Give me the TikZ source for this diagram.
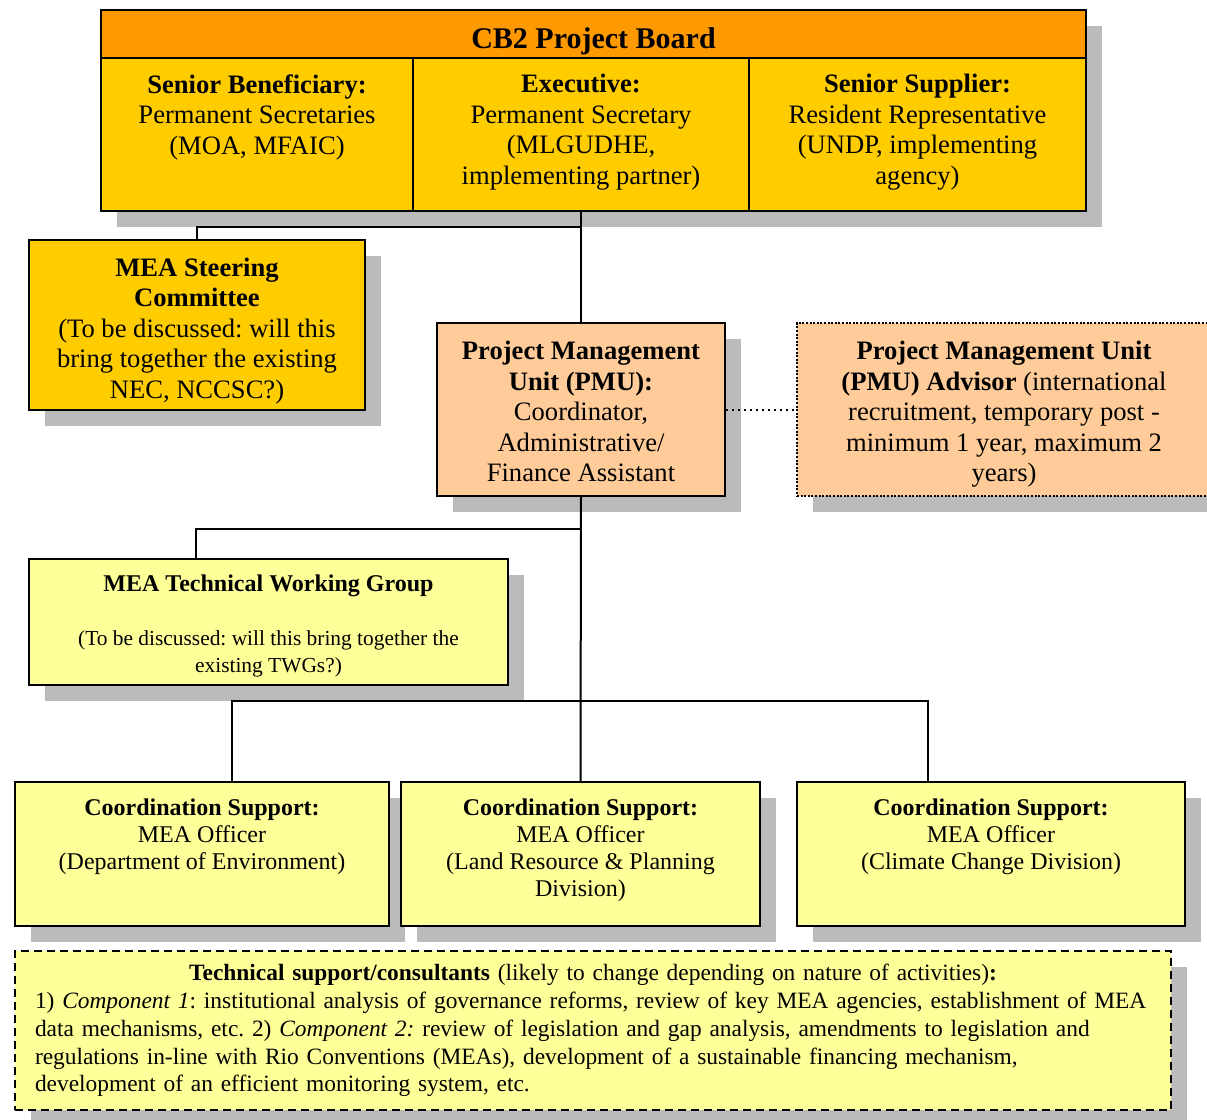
\documentclass[tikz,border=0pt]{standalone}
\usepackage{fontspec}
\setmainfont{Liberation Serif}
\usetikzlibrary{positioning,calc,shadows}
\definecolor{boardorange}{HTML}{FF9900}
\definecolor{boardgold}{HTML}{FFCC00}
\definecolor{pmupeach}{HTML}{FFCC99}
\definecolor{paleyellow}{HTML}{FFFF99}
\definecolor{shadowgray}{HTML}{BBBBBB}
\newcommand{\bigtxt}{\fontsize{13.3}{15.25}\selectfont}
\newcommand{\midtxt}{\fontsize{12}{13.6}\selectfont}
\newcommand{\smalltxt}{\fontsize{10.7}{13}\selectfont}
\frenchspacing

\begin{document}
\begin{tikzpicture}[x=0.5pt, y=-0.5pt, font=\bigtxt,
  box/.style={draw, line width=1pt, anchor=north west, inner sep=0pt},
  boxshadow/.style={drop shadow={shadow xshift=8pt, shadow yshift=-8pt,
                    fill=shadowgray, opacity=1}},
  celltxt/.style={align=center, inner sep=0pt},
  conn/.style={draw, line width=1pt}]
\useasboundingbox (0,0) rectangle (1207,1120);
% project board
\node[box, boxshadow, fill=boardgold, minimum width=492.5pt, minimum height=100.5pt] (board) at (100,9) {};
\node[box, fill=boardorange, minimum width=492.5pt, minimum height=24pt,
  text height=14.5pt, text depth=0.5pt, font=\fontsize{15}{17}\selectfont\bfseries] (title) at (100,9)
  {CB2 Project Board};
\node[box, minimum width=156pt, minimum height=76.5pt] (sb) at (100,57) {};
\node[box, minimum width=168pt, minimum height=76.5pt] (ex) at (412,57) {};
\node[box, minimum width=168.5pt, minimum height=76.5pt] (ss) at (748,57) {};
\node[celltxt, below=8.5pt of sb.north] (sbtext)
  {\textbf{Senior Beneficiary:}\\Permanent Secretaries\\(MOA, MFAIC)};
\node[celltxt, below=8.5pt of ex.north] (extext)
  {\textbf{Executive:}\\Permanent Secretary\\(MLGUDHE,\\implementing partner)};
\node[celltxt, below=8.5pt of ss.north] (sstext)
  {\textbf{Senior Supplier:}\\Resident Representative\\(UNDP, implementing\\agency)};
% committee and management unit
\node[box, boxshadow, fill=boardgold, minimum width=168pt, minimum height=85pt] (steer) at (28,239) {};
\node[celltxt] (steertext) at ($(steer.center)+(0,6)$)
  {\textbf{MEA Steering}\\\textbf{Committee}\\(To be discussed: will this\\bring together the existing\\NEC, NCCSC?)};
\node[box, boxshadow, fill=pmupeach, minimum width=144pt, minimum height=86.5pt] (pmu) at (436,322) {};
\node[celltxt] (pmutext) at ($(pmu.center)+(0,2)$)
  {\textbf{Project Management}\\\textbf{Unit (PMU):}\\Coordinator,\\Administrative/\\Finance Assistant};
\node[box, boxshadow, fill=pmupeach, dash pattern=on 1pt off 0.8pt, minimum width=207pt,
  minimum height=86.5pt] (adv) at (796,322) {};
\node[celltxt] (advtext) at ($(adv.center)+(0,5)$)
  {\textbf{Project Management Unit}\\\textbf{(PMU) Advisor} (international\\recruitment, temporary post -\\minimum 1 year, maximum 2\\years)};
\node[box, boxshadow, fill=paleyellow, minimum width=239.5pt, minimum height=63pt] (twg) at (28,558) {};
\node[celltxt, font=\midtxt] (twgtext) at ($(twg.center)+(0,4)$)
  {\textbf{MEA Technical Working Group}\\[13pt]\smalltxt (To be discussed: will this bring together the\\
   \smalltxt existing TWGs?)};
% coordination support
\node[box, boxshadow, fill=paleyellow, minimum width=187pt, minimum height=72pt] (c1) at (14,781) {};
\node[box, boxshadow, fill=paleyellow, minimum width=179.5pt, minimum height=72pt] (c2) at (400,781) {};
\node[box, boxshadow, fill=paleyellow, minimum width=194pt, minimum height=72pt] (c3) at (796,781) {};
\node[celltxt, font=\midtxt, below=8.5pt of c1.north] (c1text)
  {\textbf{Coordination Support:}\\MEA Officer\\(Department of Environment)};
\node[celltxt, font=\midtxt, below=8.5pt of c2.north] (c2text)
  {\textbf{Coordination Support:}\\MEA Officer\\(Land Resource \& Planning\\Division)};
\node[celltxt, font=\midtxt, below=8.5pt of c3.north] (c3text)
  {\textbf{Coordination Support:}\\MEA Officer\\(Climate Change Division)};
% consultants
\node[box, boxshadow, fill=paleyellow, dash pattern=on 4pt off 2.5pt, minimum width=578pt, minimum height=79.5pt,
  text width=558pt, align=left, font=\fontsize{11.7}{13.9}\selectfont] (ts) at (14,950)
  {\centerline{\textbf{Technical support/consultants} (likely to change depending on nature of activities)\textbf{:}}
   1) \textit{Component 1}: institutional analysis of governance reforms, review of key MEA agencies, establishment of MEA\\
   data mechanisms, etc. 2) \textit{Component 2:} review of legislation and gap analysis, amendments to legislation and\\
   regulations in-line with Rio Conventions (MEAs), development of a sustainable financing mechanism,\\
   development of an efficient monitoring system, etc.};
% connectors
\coordinate (j1) at ($(ex.south)+(0,15)$);
\coordinate (j2) at ($(pmu.south)+(0,32)$);
\coordinate (bus) at ($(pmu.south)+(0,204)$);
\coordinate (twgtop) at ($(twg.north west)+(168,0)$);
\coordinate (c1top) at ($(c1.north west)+(218,0)$);
\coordinate (c3top) at ($(c3.north west)+(132,0)$);
\draw[conn] (ex.south) -- (pmu.north);
\draw[conn] (steer.north) |- (j1);
\draw[line width=1pt, dotted] (pmu.east) -- (adv.west);
\draw[conn] (pmu.south) -- (c2.north);
\draw[conn] (j2) -| (twgtop);
\draw[conn] (c1top) |- (bus) -| (c3top);
\end{tikzpicture}
\end{document}
